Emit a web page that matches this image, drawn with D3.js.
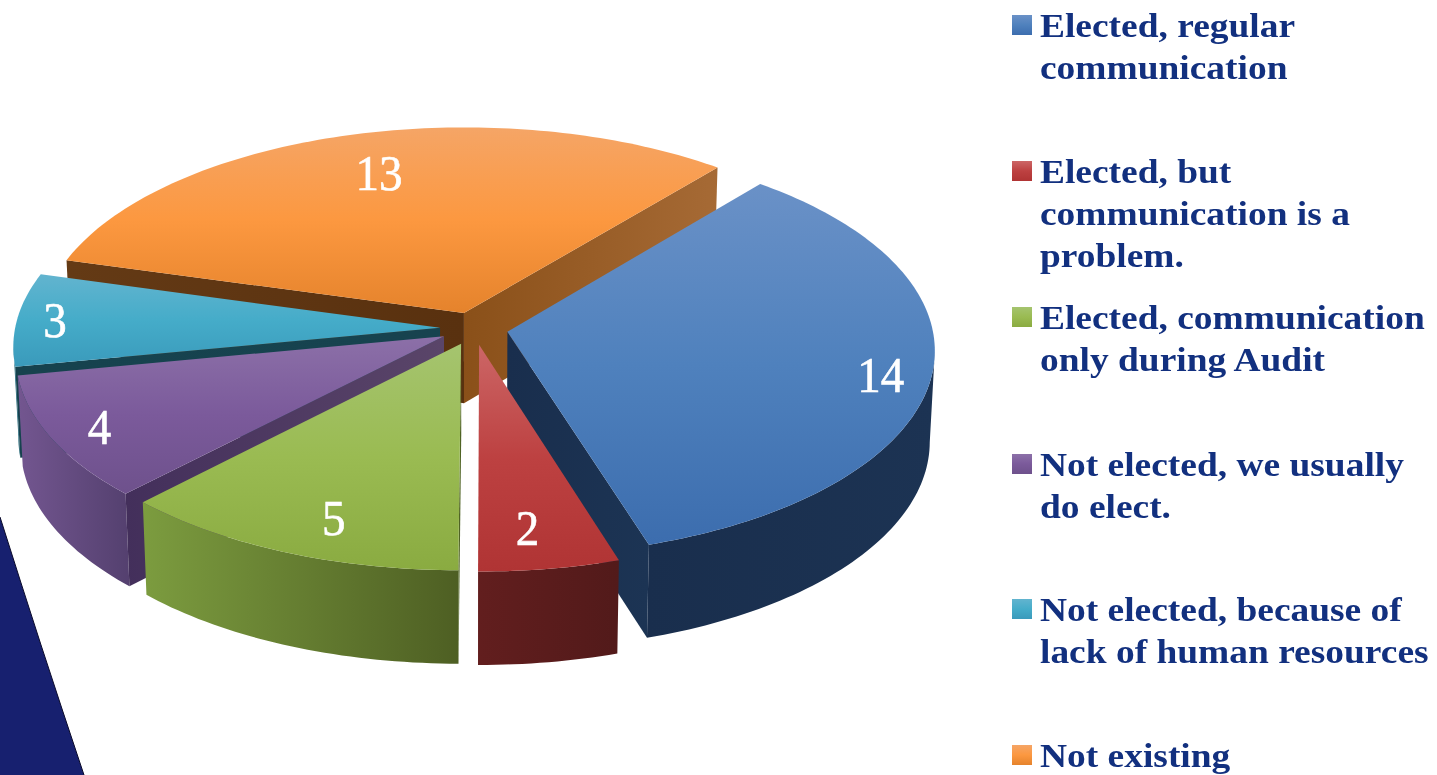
<!DOCTYPE html>
<html>
<head>
<meta charset="utf-8">
<script src="https://cdn.jsdelivr.net/npm/d3@7/dist/d3.min.js"></script>
<style>
html,body{margin:0;padding:0;background:#fff;overflow:hidden}
svg{display:block;filter:blur(0.45px)}
</style>
</head>
<body>
<svg id="chart" width="1437" height="775"></svg>
<script>
// ---- data ----
const categories = ["Elected, regular communication","Elected, but communication is a problem.","Elected, communication only during Audit","Not elected, we usually do elect.","Not elected, because of lack of human resources","Not existing"];
const values = [14, 2, 5, 4, 3, 13];
const legendLines = [["Elected, regular","communication"],["Elected, but","communication is a","problem."],["Elected, communication","only during Audit"],["Not elected, we usually","do elect."],["Not elected, because of","lack of human resources"],["Not existing"]];
// ---- styles ----
const topStops = [["#6a91c7","#4f81bd","#3c6dae"],["#cc6666","#bd4141","#b03434"],["#a5c46f","#9abb52","#8aab41"],["#8c70a8","#7b5a9b","#6e518c"],["#62b4cf","#45acc9","#3a9abb"],["#f5a566","#fc9840","#e5832c"]];
const wallStops = [["#192e4d","#1c3353"],["#621e1e","#521a1a"],["#7c9c3f","#4e5f23"],["#735690","#54406f"],["#1f6c80","#1a5f70"],["#5a320f","#5a320f"]];
const cutStartStops = [["#1c3555","#1b3050"],["#621e1e","#521a1a"],["#4f6324","#4f6324"],["#432f5b","#5a4569"],["#16424e","#17434f"],["#643a15","#59310f"]];
const cutEndStops   = [["#192e4d","#1c3454"],["#521a1a","#621e1e"],["#4f6324","#4f6324"],["#432f5b","#5a4569"],["#16424e","#17434f"],["#8a5019","#a66a35"]];
const drawOrder = [5,4,3,2,0,1];
const labelRadius = [0.885,0.83,0.83,0.885,0.91,0.77];
const labelAngleFrac = [0.52,0.58,0.437,0.487,0.5,0.51];
// ---- layout ----
const cx=474, cy=328.5, R=425, k=0.4805, persp=0.0864, explode=34;
const depth=90.5, depthPersp=0.03, shrink=0.989;
const legendX=1040, swatchX=1012, swatchSize=20, lineH=42, legendStretch=1.118;
const legendFirstBaseline=[37,183,329,476,621,767];
const startDeg=39.7;

const svg=d3.select("#chart");
const defs=svg.append("defs");
const rad=d3.scaleLinear().domain([0,1]).range([0,R]);

function vGrad(id,stops){
  const g=defs.append("linearGradient").attr("id",id).attr("x1",0).attr("y1",0).attr("x2",0).attr("y2",1);
  stops.forEach((c,i)=>g.append("stop").attr("offset",i/(stops.length-1)).attr("stop-color",c));
}
function hGrad(id,stops){
  const g=defs.append("linearGradient").attr("id",id).attr("x1",0).attr("y1",0).attr("x2",1).attr("y2",0);
  stops.forEach((c,i)=>g.append("stop").attr("offset",i/(stops.length-1)).attr("stop-color",c));
}
topStops.forEach((s,i)=>{
  vGrad("top"+i,s);
  hGrad("wall"+i,wallStops[i]);
  hGrad("cutS"+i,cutStartStops[i]);
  hGrad("cutE"+i,cutEndStops[i]);
});

const pie=d3.pie().sort(null).value(d=>d)
  .startAngle(startDeg*Math.PI/180).endAngle(startDeg*Math.PI/180+2*Math.PI);
const arcs=pie(values);

// d3.pie angle (0=up, clockwise) -> world plane point, then perspective projection
function world(a,r,mid){
  return [explode*Math.sin(mid)+r*Math.sin(a), -explode*Math.cos(mid)-r*Math.cos(a)];
}
function project(p,lower){
  const s=1/(1-persp*p[1]/R);
  if(!lower) return [cx+p[0]*s, cy+k*p[1]*s];
  const d=depth*(1+depthPersp*p[1]/R);
  return [cx+p[0]*s*shrink, cy+k*p[1]*s+d];
}
const closed=d3.line().curve(d3.curveLinearClosed);

function arcAngles(d){
  const n=Math.max(8,Math.ceil((d.endAngle-d.startAngle)*50));
  return d3.range(n+1).map(i=>d.startAngle+(d.endAngle-d.startAngle)*i/n);
}

// background decoration
svg.append("path")
  .attr("d",d3.line().curve(d3.curveMonotoneY)([[0,517],[41,645],[84,775]])+"L84,785L-5,785L-5,517Z")
  .attr("fill","#17206f").attr("stroke","#0a0a2a").attr("stroke-width",1);

const gPie=svg.append("g");
const frontLimit=-Math.cos(85*Math.PI/180)*-1; // rim is visible past the widest point of the ellipse
drawOrder.forEach(i=>{
  const d=arcs[i], mid=(d.startAngle+d.endAngle)/2, g=gPie.append("g");
  const apex=world(0,0,mid);
  const angs=arcAngles(d);
  const edge=(a)=>{const p=world(a,R,mid);return [project(apex),project(p),project(p,true),project(apex,true)];};
  const upper=angs.map(a=>project(world(a,R,mid)));
  const front=angs.filter(a=>-Math.cos(a)>Math.cos(85*Math.PI/180));
  if(front.length>1){
    const u=front.map(a=>project(world(a,R,mid)));
    const l=front.map(a=>project(world(a,R,mid),true)).reverse();
    g.append("path").attr("d",closed(u.concat(l))).attr("fill","url(#wall"+i+")");
  }
  // only the radial faces that look toward the viewer
  if(-Math.sin(d.startAngle)>0) g.append("path").attr("d",closed(edge(d.startAngle))).attr("fill","url(#cutS"+i+")");
  if(Math.sin(d.endAngle)>0)   g.append("path").attr("d",closed(edge(d.endAngle))).attr("fill","url(#cutE"+i+")");
  g.append("path").attr("d",closed([project(apex)].concat(upper))).attr("fill","url(#top"+i+")");
});

// value labels
const labelFont="'Liberation Serif',serif";
arcs.forEach((d,i)=>{
  const mid=(d.startAngle+d.endAngle)/2;
  const a=d.startAngle+(d.endAngle-d.startAngle)*labelAngleFrac[i];
  const p=project(world(a,rad(labelRadius[i]),mid));
  svg.append("text").attr("transform","translate("+p[0]+","+p[1]+") scale(0.94,1)").attr("dy","0.34em")
    .attr("text-anchor","middle").attr("font-family",labelFont).attr("font-size",50)
    .attr("fill","#fff").attr("stroke","#fff").attr("stroke-width",0.6).text(d.data);
});

// legend
const legend=svg.append("g");
categories.forEach((c,i)=>{
  const base=legendFirstBaseline[i];
  legend.append("rect").attr("x",swatchX).attr("y",base-22).attr("width",swatchSize).attr("height",swatchSize)
    .attr("fill","url(#top"+i+")");
  const t=legend.append("text").attr("transform","translate("+legendX+",0) scale("+legendStretch+",1)")
    .attr("font-family",labelFont).attr("font-weight","bold")
    .attr("font-size",33.5).attr("fill","#12307f");
  legendLines[i].forEach((l,j)=>t.append("tspan").attr("x",0).attr("y",base+j*lineH).text(l));
});
</script>
</body>
</html>
